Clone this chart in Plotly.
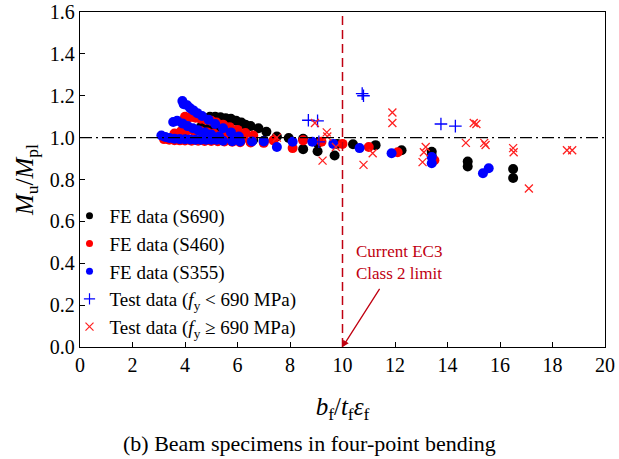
import plotly.graph_objects as go

# ---- data ----
s690_x = [4.95, 5.15, 5.35, 5.55, 5.75, 5.95, 6.15, 6.3, 6.5, 6.8, 7.1, 7.5, 7.95, 8.5, 9.05, 9.8, 10.4, 11.26, 12.25, 13.4,
          3.95, 4.3, 4.6, 4.9, 5.2, 5.5, 5.8, 6.1, 6.2, 6.6, 7.0,
          8.5, 9.05, 9.7, 13.4, 14.77, 14.77, 16.5, 16.5]
s690_y = [1.10, 1.10, 1.097, 1.093, 1.09, 1.08, 1.072, 1.062, 1.055, 1.045, 1.028, 1.005, 0.998, 0.995, 0.975, 0.97, 0.968, 0.964, 0.94, 0.932,
          1.02, 1.04, 1.05, 1.045, 1.04, 1.03, 1.02, 1.01, 0.997, 0.99, 0.985,
          0.945, 0.935, 0.915, 0.912, 0.886, 0.862, 0.85, 0.807]

s460_x = [4.0, 4.2, 4.4, 4.6, 4.8, 5.0, 5.2, 5.45, 5.7, 6.0, 6.3, 6.6,
          3.6, 3.85, 4.1, 4.35, 4.6, 4.85, 5.1, 5.4, 5.7, 6.0,
          3.2, 3.4, 3.6, 3.8, 4.0, 4.25, 4.5, 4.75, 5.0, 5.25, 5.5, 5.8, 6.1, 6.5, 7.0,
          6.2, 7.37, 8.1, 8.5, 9.2, 10.0, 11.0, 12.1, 13.5]
s460_y = [1.10, 1.098, 1.095, 1.09, 1.085, 1.08, 1.072, 1.062, 1.05, 1.037, 1.022, 1.01,
          1.02, 1.03, 1.035, 1.033, 1.03, 1.025, 1.02, 1.012, 1.005, 1.0,
          0.993, 0.99, 0.988, 0.987, 0.986, 0.985, 0.985, 0.984, 0.984, 0.983, 0.982, 0.98, 0.978, 0.977, 0.975,
          0.997, 0.987, 0.95, 0.987, 0.98, 0.97, 0.955, 0.93, 0.892]

s355_x = [3.9, 3.95, 4.08, 4.2, 4.32, 4.47, 4.65, 4.9, 5.15, 5.45, 5.75, 6.05,
          3.55, 3.7, 3.9, 4.1, 4.3, 4.5, 4.75, 5.0, 5.3,
          3.1, 3.25, 3.4, 3.6, 3.8, 4.0, 4.2, 4.4, 4.6, 4.8, 5.0, 5.2, 5.45, 5.8, 6.1, 6.55, 7.0,
          7.5, 8.1, 8.85, 9.65, 10.65, 11.87, 13.4, 13.4, 15.35, 15.57]
s355_y = [1.175, 1.16, 1.155, 1.14, 1.13, 1.117, 1.103, 1.085, 1.065, 1.045, 1.025, 1.005,
          1.075, 1.08, 1.068, 1.055, 1.045, 1.035, 1.025, 1.015, 1.005,
          1.01, 1.003, 0.998, 0.995, 0.993, 0.992, 0.991, 0.99, 0.99, 0.99, 0.99, 0.99, 0.985, 0.983, 0.982, 0.982, 0.982,
          0.955, 0.98, 0.98, 0.97, 0.95, 0.925, 0.907, 0.878, 0.83, 0.854]

test_lo_x = [8.7, 9.05, 9.1, 10.75, 10.8, 13.75, 14.3]
test_lo_y = [1.083, 1.08, 0.98, 1.21, 1.2, 1.065, 1.055]

test_hi_x = [7.5, 8.95, 9.4, 9.42, 9.24, 9.75, 10.8, 11.15, 11.9, 11.9, 13.17, 13.1, 13.05,
             14.7, 15.0, 15.1, 15.4, 15.45, 16.5, 16.52, 17.1, 18.55, 18.75]
test_hi_y = [1.0, 1.07, 1.025, 1.005, 0.89, 0.955, 0.87, 0.925, 1.12, 1.07, 0.955, 0.93, 0.883,
             0.975, 1.07, 1.065, 0.975, 0.965, 0.95, 0.93, 0.757, 0.94, 0.94]

names = ["FE data (S690)", "FE data (S460)", "FE data (S355)",
         "Test data (<i>f</i><sub>y</sub> < 690 MPa)", "Test data (<i>f</i><sub>y</sub> ≥ 690 MPa)"]
x_ticks = [0, 2, 4, 6, 8, 10, 12, 14, 16, 18, 20]
y_ticks = [0.0, 0.2, 0.4, 0.6, 0.8, 1.0, 1.2, 1.4, 1.6]
class2_limit = 10
ref_ratio = 1.0

RED_DARK = "#C00010"
FONT = "Liberation Serif, Times New Roman, serif"

fig = go.Figure()

series = [
    (s690_x, s690_y, "#000000", "circle", 10, 1),
    (s460_x, s460_y, "#FF0000", "circle", 10, 1),
    (s355_x, s355_y, "#0000FF", "circle", 10, 1),
    (test_lo_x, test_lo_y, "#0000FF", "cross-thin", 9, 1.3),
    (test_hi_x, test_hi_y, "#FF2020", "x-thin", 8, 1.3),
]
for (xs, ys, col, sym, sz, lw) in series:
    fig.add_trace(go.Scatter(
        x=xs, y=ys, mode="markers", showlegend=False, hoverinfo="skip",
        marker=dict(color=col, symbol=sym, size=sz, line=dict(color=col, width=lw if "thin" in sym else 0)),
    ))

# legend entries (smaller symbols like the reference)
for (xs, ys, col, sym, sz, lw), nm in zip(series, names):
    fig.add_trace(go.Scatter(
        x=[None], y=[None], mode="markers", name=nm,
        marker=dict(color=col, symbol=sym, size=7 if sym == "circle" else 8,
                    line=dict(color=col, width=1.2 if "thin" in sym else 0)),
    ))

fig.add_hline(y=ref_ratio, line=dict(color="black", width=1.3, dash="12px,4px,2px,4px"))
fig.add_vline(x=class2_limit, line=dict(color=RED_DARK, width=1.5, dash="9px,5px"))

fig.add_annotation(
    x=class2_limit, y=0, xref="x", yref="y",
    ax=11.45, ay=0.285, axref="x", ayref="y",
    text="", showarrow=True, arrowhead=2, arrowsize=1, arrowwidth=1.3, arrowcolor=RED_DARK,
)
fig.add_annotation(
    x=10.45, y=0.512, xref="x", yref="y", xanchor="left", yanchor="top",
    text="Current EC3<br>Class 2 limit", showarrow=False, align="left",
    font=dict(family=FONT, size=17, color=RED_DARK),
)
fig.add_annotation(
    x=0.437, y=-0.245, xref="paper", yref="paper", xanchor="center", yanchor="top",
    text="(b) Beam specimens in four-point bending", showarrow=False,
    font=dict(family=FONT, size=22, color="black"),
)

axis_common = dict(
    showline=True, linecolor="black", linewidth=1.3, mirror=True,
    ticks="inside", ticklen=5, tickcolor="black", tickwidth=1,
    showgrid=False, zeroline=False, automargin=False,
    tickfont=dict(family=FONT, size=20, color="black"),
)
fig.update_xaxes(range=[0, 20], tickvals=x_ticks, ticktext=[str(v) for v in x_ticks],
                 title=dict(text="<i>b</i><sub>f</sub>/<i>t</i><sub>f</sub><i>ε</i><sub>f</sub>",
                            font=dict(family=FONT, size=25, color="black"), standoff=22),
                 **axis_common)
fig.update_yaxes(range=[0, 1.6], tickvals=y_ticks, ticktext=[f"{v:.1f}" for v in y_ticks],
                 title=dict(text="<i>M</i><sub>u</sub>/<i>M</i><sub>pl</sub>",
                            font=dict(family=FONT, size=25, color="black"), standoff=9),
                 **axis_common)

fig.update_layout(
    width=619, height=459,
    margin=dict(l=80, r=14, t=12, b=112, autoexpand=False),
    paper_bgcolor="white", plot_bgcolor="white",
    font=dict(family=FONT, color="black"),
    legend=dict(x=-0.02, y=0.448, xanchor="left", yanchor="top", bgcolor="rgba(0,0,0,0)",
                font=dict(family=FONT, size=19, color="black"), itemwidth=30,
                tracegroupgap=0),
)

fig.write_html("out.html")
